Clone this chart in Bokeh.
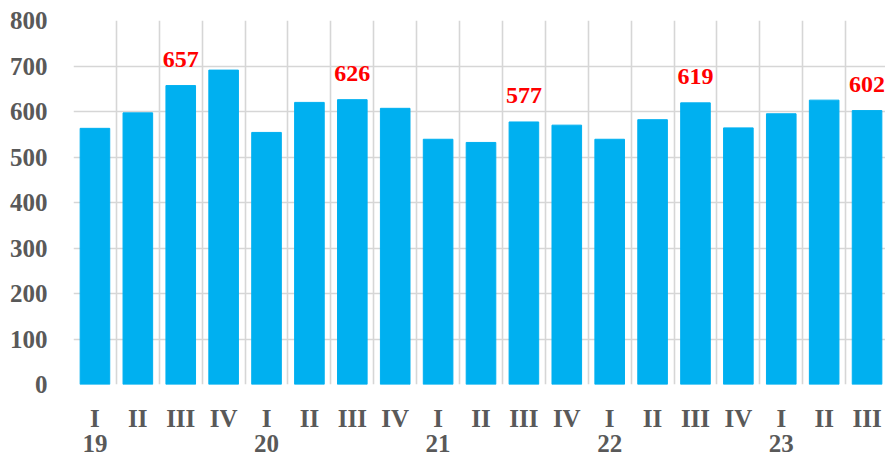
from bokeh.plotting import figure
from bokeh.models import FixedTicker, ColumnDataSource, LinearAxis
from bokeh.core.properties import value
from bokeh.embed import file_html
from bokeh.resources import INLINE

quarters = ["I", "II", "III", "IV", "I", "II", "III", "IV", "I", "II", "III", "IV",
            "I", "II", "III", "IV", "I", "II", "III"]
years = ["19", "20", "21", "22", "23"]
values = [563, 597, 657, 691, 554, 620, 626, 607, 539, 532, 577, 570,
          539, 582, 619, 564, 595, 625, 602]
y_ticks = [0, 100, 200, 300, 400, 500, 600, 700, 800]

FONT = "Liberation Serif"
GREY = "#595959"
GRID = "#D6D6D6"

xs = list(range(1, len(values) + 1))
year_pos = [x for x, q in zip(xs, quarters) if q == "I"]

src = ColumnDataSource(dict(x=xs, top=values))
lab_x = [x for x, q in zip(xs, quarters) if q == "III"]
lab_v = [v for v, q in zip(values, quarters) if q == "III"]
lab_src = ColumnDataSource(dict(x=lab_x, y=lab_v, t=[str(v) for v in lab_v]))

p = figure(x_range=(0.5, 19.43), y_range=(0, 800),
           width=885, height=456,
           output_backend="svg", toolbar_location=None,
           min_border_left=73, min_border_top=20, min_border_right=0,
           min_border_bottom=72, x_axis_location=None)
p.outline_line_color = None
p.background_fill_color = "white"

p.vbar(x="x", top="top", width=0.69, source=src, fill_color="#00B0F0",
       line_color="#00B0F0")
p.text(x="x", y="y", text="t", source=lab_src, text_font=value(FONT),
       text_font_style="bold", text_font_size="24px", text_color="#FF0000",
       text_align="center", text_baseline="alphabetic", y_offset=-26)

# y axis
p.yaxis.ticker = FixedTicker(ticks=y_ticks)
p.yaxis.axis_line_color = None
p.yaxis.major_tick_line_color = None
p.yaxis.minor_tick_line_color = None
p.yaxis.major_label_standoff = 20
p.yaxis.major_label_text_font = FONT
p.yaxis.major_label_text_font_style = "bold"
p.yaxis.major_label_text_font_size = "25px"
p.yaxis.major_label_text_color = GREY

# x axes
ax1 = LinearAxis(ticker=FixedTicker(ticks=xs),
                 major_label_overrides={x: q for x, q in zip(xs, quarters)})
ax2 = LinearAxis(ticker=FixedTicker(ticks=year_pos),
                 major_label_overrides={x: y for x, y in zip(year_pos, years)})
for ax, so in ((ax1, 14), (ax2, -6)):
    ax.axis_line_color = None
    ax.major_tick_line_color = None
    ax.minor_tick_line_color = None
    ax.major_label_standoff = so
    ax.major_label_text_font = FONT
    ax.major_label_text_font_style = "bold"
    ax.major_label_text_font_size = "25px"
    ax.major_label_text_color = GREY
    p.add_layout(ax, "below")

p.ygrid.ticker = FixedTicker(ticks=y_ticks)
p.ygrid.grid_line_color = GRID
p.ygrid.grid_line_width = 1.6
p.xgrid.ticker = FixedTicker(ticks=[x - 0.5 for x in xs] + [len(xs) + 0.5])
p.xgrid.grid_line_color = GRID
p.xgrid.grid_line_width = 1.6

open("out.html", "w").write(file_html(p, INLINE))
